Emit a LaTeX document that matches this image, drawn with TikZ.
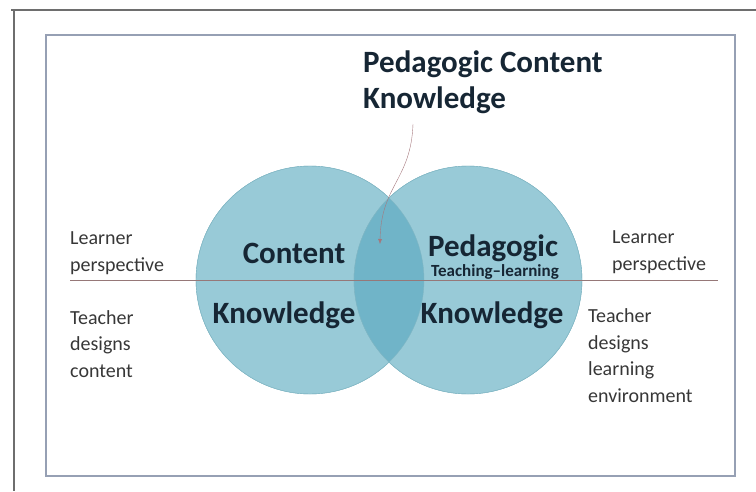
\documentclass[tikz,border=0pt]{standalone}
\usepackage{fontspec}
\setmainfont{Carlito}
\usetikzlibrary{arrows.meta, positioning}

\definecolor{circfill}{RGB}{152,202,215}
\definecolor{lensfill}{RGB}{112,180,200}
\definecolor{circedge}{RGB}{128,182,196}
\definecolor{midline}{RGB}{150,120,120}
\definecolor{arrowcol}{RGB}{165,120,125}
\definecolor{framegray}{RGB}{110,110,110}
\definecolor{innerframe}{RGB}{150,160,180}
\definecolor{labtext}{RGB}{55,55,55}
\definecolor{bigtext}{RGB}{22,38,52}

\tikzset{
  side/.style={anchor=base west, align=left, text=labtext, font=\fontsize{20}{26.5}\selectfont, inner sep=0pt},
  big/.style={anchor=base, font=\bfseries\fontsize{31}{36}\selectfont, text=bigtext, inner sep=0pt},
  venn/.style={fill=circfill, draw=circedge}
}

\begin{document}
\begin{tikzpicture}[x=1pt, y=-1pt]
    \useasboundingbox (0,0) rectangle (756,491);
    % frames
    \draw[framegray, line width=1.5pt] (11,10) -- (756,10);
    \draw[framegray, line width=1.5pt] (14,10) -- (14,491);
    \draw[innerframe, line width=1.2pt] (46,35) rectangle (735,476);
    % circles
    \coordinate (cc) at (310,280);
    \coordinate (pc) at (468,280);
    \fill[venn] (cc) circle (114);
    \fill[venn] (pc) circle (114);
    \begin{scope}
      \clip (cc) circle (114);
      \fill[lensfill] (pc) circle (114);
    \end{scope}
    \draw[circedge] (cc) circle (114);
    \draw[circedge] (pc) circle (114);
    % dividing line
    \coordinate (lineL) at (70,280);
    \coordinate (lineR) at (718,280);
    \draw[midline, thin] (lineL) -- (lineR);
    % title (base = last line)
    \node[big, anchor=base west, align=left] (pck) at (363,108) {Pedagogic Content\\Knowledge};
    \coordinate (pcktail) at (413,124);
    \coordinate (pcktip) at (380,244);
    \draw[arrowcol, -{Latex[length=5pt,width=4pt]}] (pcktail) .. controls (411,180) and (381,185) .. (pcktip);
    % circle texts
    \node[big] (content) at (294,263) {Content};
    \node[big] (cknow) at (284,323) {Knowledge};
    \node[big] (pedag) at (493,256) {Pedagogic};
    \node[font=\bfseries\fontsize{17}{20}\selectfont, text=bigtext, inner sep=0pt, anchor=base] (teach) at (495,276) {Teaching--learning};
    \node[big] (pknow) at (492,323) {Knowledge};
    % side labels (base = last line)
    \node[side] (learnL) at (70,271) {Learner\\perspective};
    \node[side] (teachL) at (70,377) {Teacher\\designs\\content};
    \node[side] (learnR) at (612,270) {Learner\\perspective};
    \node[side] (teachR) at (588,402) {Teacher\\designs\\learning\\environment};
  \end{tikzpicture}
\end{document}
